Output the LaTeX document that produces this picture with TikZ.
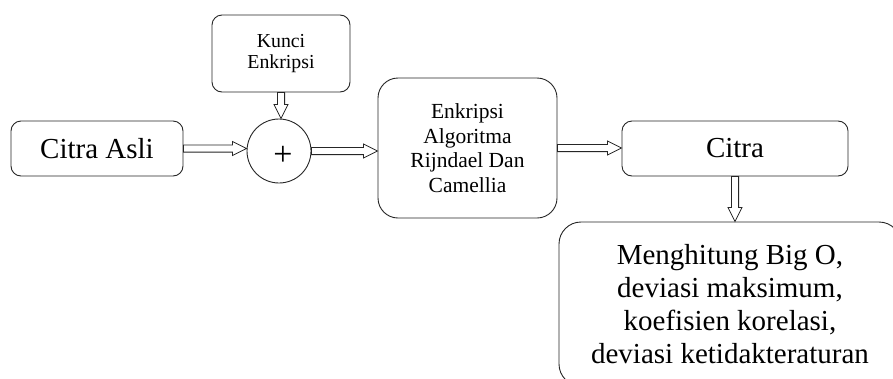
\documentclass[tikz,border=0pt]{standalone}
\usepackage{fontspec}
\setmainfont{Liberation Serif}
\usetikzlibrary{calc}
\tikzset{
  box/.style={draw=black!85, line width=0.9pt, rounded corners=10pt, inner sep=0pt, align=center},
  bigbox/.style={box, rounded corners=20pt},
  harrowr/.style={draw=black!85, line width=0.8pt, fill=white, line join=miter,
    to path={let \p1=(\tikztostart), \p2=(\tikztotarget) in
      (\x1,\y1+3.6pt) -- (\x2-14pt,\y1+3.6pt) -- (\x2-14pt,\y1+7pt) -- (\x2,\y1)
      -- (\x2-14pt,\y1-7pt) -- (\x2-14pt,\y1-3.6pt) -- (\x1,\y1-3.6pt) -- cycle}},
  harrowd/.style={draw=black!85, line width=0.8pt, fill=white, line join=miter,
    to path={let \p1=(\tikztostart), \p2=(\tikztotarget) in
      (\x1-3.6pt,\y1) -- (\x1-3.6pt,\y2+14pt) -- (\x1-7pt,\y2+14pt) -- (\x1,\y2)
      -- (\x1+7pt,\y2+14pt) -- (\x1+3.6pt,\y2+14pt) -- (\x1+3.6pt,\y1) -- cycle}},
}
\begin{document}
\begin{tikzpicture}[x=1pt,y=-1pt]
\useasboundingbox (0,0) rectangle (893,378);
\clip (0,0) rectangle (893,378);
\fill[white] (0,0) rectangle (893,378);

\node[box, minimum width=138pt, minimum height=77pt,
      font=\fontsize{19.8}{21.5}\selectfont] (kunci) at (281,53.5) {Kunci\\Enkripsi};
\node[box, minimum width=172pt, minimum height=55pt,
      font=\fontsize{29}{33}\selectfont] (asli) at (97,148.5) {Citra Asli};
\node[draw=black!85, line width=0.9pt, circle, minimum size=64pt, inner sep=0pt] (xor) at (279,151) {};
\node[font=\fontsize{34}{34}\selectfont, inner sep=0pt] (plus) at (283,156) {+};
\node[bigbox, minimum width=179pt, minimum height=140pt,
      font=\fontsize{21.5}{24.5}\selectfont] (enk) at (467.5,148) {Enkripsi\\Algoritma\\Rijndael Dan\\Camellia};
\node[box, minimum width=226pt, minimum height=55pt,
      font=\fontsize{29}{33}\selectfont] (citra) at (735,148.5) {Citra};
\node[bigbox, rounded corners=22pt, minimum width=342pt, minimum height=164pt,
      font=\fontsize{29}{33}\selectfont] (hasil) at (730,304)
      {Menghitung Big O,\\deviasi maksimum,\\koefisien korelasi,\\deviasi ketidakteraturan};

\draw[harrowr] (asli.east) to (xor.west);
\draw[harrowd] (kunci.south) to (xor.north);
\draw[harrowr] (xor.east) to (enk.west);
\draw[harrowr] (enk.east) to (citra.west);
\draw[harrowd] (citra.south) to (hasil.north);
\end{tikzpicture}
\end{document}
